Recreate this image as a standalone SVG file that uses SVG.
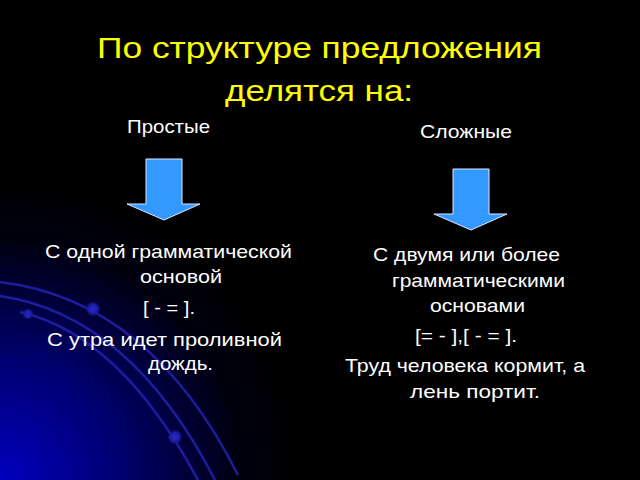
<svg xmlns="http://www.w3.org/2000/svg" width="640" height="480" viewBox="0 0 640 480">
<defs>
<radialGradient id="glow" cx="0" cy="480" r="300" gradientUnits="userSpaceOnUse">
<stop offset="0" stop-color="#0000c0"/>
<stop offset="0.4" stop-color="#000070"/>
<stop offset="0.8" stop-color="#000010"/>
<stop offset="1" stop-color="#000000"/>
</radialGradient>
<radialGradient id="dot" cx="0.5" cy="0.5" r="0.5">
<stop offset="0" stop-color="#2a2ad0"/>
<stop offset="0.6" stop-color="#1c1ca0"/>
<stop offset="1" stop-color="#101070" stop-opacity="0"/>
</radialGradient>
<style>
.t{font-family:"Liberation Sans",Arial,sans-serif;fill:#ffffff}
.title{font-family:"Liberation Sans",Arial,sans-serif;fill:#ffff00;font-size:30px}
.body{font-size:19px}
.head{font-size:18.5px}
.arc{fill:none;stroke:#2222b0;stroke-width:2.5;stroke-opacity:0.85}
.arrow{fill:#3399ff;stroke:#dde8ff;stroke-width:1}
</style>
</defs>
<rect width="640" height="480" fill="#000"/>
<rect width="640" height="480" fill="url(#glow)"/>
<g id="decor">
<path class="arc" d="M0,282 Q150,300 238,475"/>
<path class="arc" d="M0,296 Q130,315 215,480"/>
<path class="arc" d="M20,312 Q120,335 198,480"/>
<circle cx="93" cy="309" r="8" fill="url(#dot)"/>
<circle cx="28" cy="314" r="6" fill="url(#dot)"/>
<circle cx="175" cy="437" r="8" fill="url(#dot)"/>
</g>
<g id="title">
<text class="title" x="97" y="58" textLength="445" lengthAdjust="spacingAndGlyphs">По структуре предложения</text>
<text class="title" x="225" y="101" textLength="188" lengthAdjust="spacingAndGlyphs">делятся на:</text>
</g>
<g id="simple">
<text class="t head" x="127" y="133" textLength="83" lengthAdjust="spacingAndGlyphs">Простые</text>
</g>
<g id="complex">
<text class="t head" x="420" y="138" textLength="92" lengthAdjust="spacingAndGlyphs">Сложные</text>
</g>
<g id="connectors">
<polygon class="arrow" points="146,159 182,159 182,204 200,204 164,220 127,204 146,204"/>
<polygon class="arrow" points="453,169 489,169 489,214 507,214 471,230 434,214 453,214"/>
</g>
<g id="simple-text">
<text class="t body" x="45" y="258" textLength="247" lengthAdjust="spacingAndGlyphs">С одной грамматической</text>
<text class="t body" x="140" y="283" textLength="82" lengthAdjust="spacingAndGlyphs">основой</text>
<text class="t body" x="143" y="314" textLength="52" lengthAdjust="spacingAndGlyphs">[ - = ].</text>
<text class="t body" x="47" y="346" textLength="235" lengthAdjust="spacingAndGlyphs">С утра идет проливной</text>
<text class="t body" x="148" y="370" textLength="65" lengthAdjust="spacingAndGlyphs">дождь.</text>
</g>
<g id="complex-text">
<text class="t body" x="373" y="261" textLength="187" lengthAdjust="spacingAndGlyphs">С двумя или более</text>
<text class="t body" x="392" y="287" textLength="173" lengthAdjust="spacingAndGlyphs">грамматическими</text>
<text class="t body" x="430" y="312" textLength="95" lengthAdjust="spacingAndGlyphs">основами</text>
<text class="t body" x="415" y="342" textLength="102" lengthAdjust="spacingAndGlyphs">[= - ],[ - = ].</text>
<text class="t body" x="345" y="372" textLength="240" lengthAdjust="spacingAndGlyphs">Труд человека кормит, а</text>
<text class="t body" x="410" y="398" textLength="130" lengthAdjust="spacingAndGlyphs">лень портит.</text>
</g>
</svg>
